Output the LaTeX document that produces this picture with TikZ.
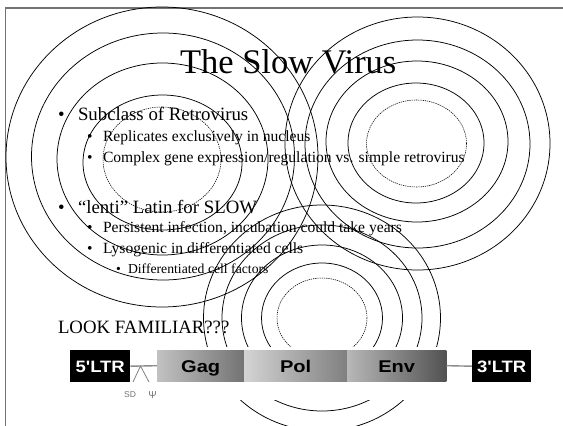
\documentclass[tikz,border=0pt]{standalone}
\usepackage{fontspec}
\setmainfont{Liberation Serif}
\setsansfont{Liberation Sans}
\newfontfamily\barfont{Liberation Sans}
\begin{document}
\begin{tikzpicture}[x=1pt,y=-1pt,
  txt/.style={anchor=base west,inner sep=0pt,outer sep=0pt},
  lone/.style={txt,font=\fontsize{18.8}{20}\selectfont},
  ltwo/.style={txt,font=\fontsize{15.6}{17}\selectfont},
  lthree/.style={txt,font=\fontsize{13.7}{15}\selectfont},
  ring/.style={black,line width=0.75pt},
  dring/.style={black,line width=0.55pt,dash pattern=on 1.3pt off 0.9pt},
  ltr/.style={fill=black,text=white,inner sep=0pt,minimum height=32pt,anchor=north west,
    text height=15pt,text depth=2pt,
    font=\barfont\bfseries\fontsize{16.5}{16.5}\selectfont},
  seg/.style={inner sep=0pt,minimum height=31pt,anchor=north west},
  segtext/.style={inner sep=0pt,text height=16pt,text depth=2pt,
    font=\barfont\bfseries\fontsize{17}{17}\selectfont},
  link/.style={draw=black!45,line width=1.4pt},
  small/.style={inner sep=0pt,text=black!55,font=\sffamily\fontsize{8.5}{9}\selectfont}
]
\useasboundingbox (0,0) rectangle (563,426);
\fill[white] (0,0) rectangle (563,426);
% slide frame
\draw[black!55,line width=1.4pt] (5.5,426) -- (5.5,8) -- (563,8);

% texts
\node[txt,font=\fontsize{34.5}{36}\selectfont] (title) at (180,73) {The Slow Virus};
\node[lone] (b1) at (58,120) {•};
\node[lone] (t1) at (78,120) {Subclass of Retrovirus};
\node[ltwo] (b2) at (87,141.5) {•};
\node[ltwo] (t2) at (103,141.5) {Replicates exclusively in nucleus};
\node[ltwo] (b3) at (87,162) {•};
\node[ltwo] (t3) at (103,162) {Complex gene expression/regulation vs. simple retrovirus};
\node[lone] (b4) at (58,213.5) {•};
\node[lone] (t4) at (78,213.5) {“lenti” Latin for SLOW};
\node[ltwo] (b5) at (87,232.5) {•};
\node[ltwo] (t5) at (103,232.5) {Persistent infection, incubation could take years};
\node[ltwo] (b6) at (87,253) {•};
\node[ltwo] (t6) at (103,253) {Lysogenic in differentiated cells};
\node[lthree] (b7) at (116,273) {•};
\node[lthree] (t7) at (128,273) {Differentiated cell factors};
\node[lone] (look) at (58,333) {LOOK FAMILIAR???};

% left set of rings
\draw[dring] (162,159.5) ellipse [x radius=59, y radius=52.5];
\draw[ring] (162.5,162.5) ellipse [x radius=79.5, y radius=67.5];
\draw[ring] (162.5,159) ellipse [x radius=105.5, y radius=96];
\draw[ring] (163,156.5) ellipse [x radius=131.5, y radius=123.5];
\draw[ring] (162,157) ellipse [x radius=156, y radius=150];
% right set of rings
\draw[dring] (416.5,143.5) ellipse [x radius=50, y radius=43.5];
\draw[ring] (416,143) ellipse [x radius=68, y radius=60];
\draw[ring] (417,141.5) ellipse [x radius=91, y radius=80.5];
\draw[ring] (417.5,144) ellipse [x radius=112.5, y radius=104];
\draw[ring] (417.5,143.5) ellipse [x radius=132.5, y radius=126.5];
% bottom set of rings
\draw[dring] (322,318) ellipse [x radius=45, y radius=40];
\draw[ring] (322,318) ellipse [x radius=60.5, y radius=55];
\draw[ring] (322,318) ellipse [x radius=80.5, y radius=73];
\draw[ring] (322,318) ellipse [x radius=100, y radius=93];
\draw[ring] (322,318) ellipse [x radius=118.5, y radius=113];

% gene map (opaque picture)
\fill[white] (62,347) rectangle (540,400);
\node[ltr,minimum width=60pt] (ltr5) at (70,350) {\scalebox{1.12}[1]{5'LTR}};
\node[seg,minimum width=87pt] (gag) at (157,350) {};
\node[seg,minimum width=103pt] (pol) at (244,350) {};
\node[seg,minimum width=99pt] (env) at (347,350) {};
\shade[left color=black!24,right color=black!55] (gag.north west) rectangle (gag.south east);
\shade[left color=black!17,right color=black!50] (pol.north west) rectangle (pol.south east);
\shade[left color=black!28,right color=black!68] (env.north west) rectangle (env.south east);
\node[segtext] (gagl) at (gag.center) {\scalebox{1.18}[1]{Gag}};
\node[segtext] (poll) at (pol.center) {\scalebox{1.18}[1]{Pol}};
\node[segtext] (envl) at (env.center) {\scalebox{1.18}[1]{Env}};
\node[ltr,minimum width=59pt] (ltr3) at (472,350) {\scalebox{1.12}[1]{3'LTR}};
\draw[link] (ltr5.east) -- (gag.west);
\draw[link] (env.east) -- (ltr3.west);
\coordinate (apex) at (140.5,366);
\coordinate (sdfoot) at (133,382);
\coordinate (psifoot) at (149,382);
\draw[black!50,line width=0.8pt] (sdfoot) -- (apex) -- (psifoot);
\node[small] (sd) at (130,395) {SD};
\node[small,font=\sffamily\fontsize{10}{10}\selectfont] (psi) at (152.5,395) {Ψ};
\end{tikzpicture}
\end{document}
